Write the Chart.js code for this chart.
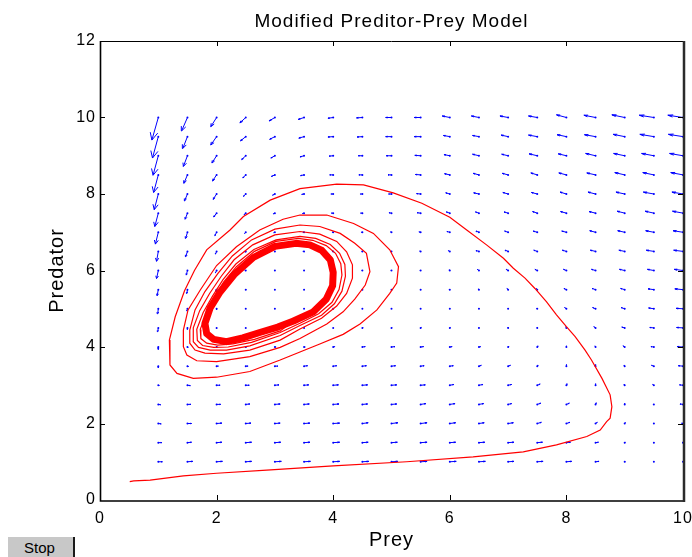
<!DOCTYPE html>
<html>
<head>
<meta charset="utf-8">
<title>Modified Preditor-Prey Model</title>
<script src="https://cdn.jsdelivr.net/npm/chart.js@4.4.1/dist/chart.umd.min.js"></script>
<style>
  html, body { margin: 0; padding: 0; background: #fff; }
  #wrap { position: relative; width: 692px; height: 557px; }
  #ppChart { display: block; }
  #stopBtn {
    position: absolute; left: 8px; top: 537px; width: 67px; height: 20px;
    box-sizing: border-box; background: #c8c8c8; border-right: 2px solid #1a1a1a;
    font: 15px "Liberation Sans", Arial, sans-serif; color: #000;
    text-align: center; line-height: 21px; padding-right: 2px;
  }
</style>
</head>
<body>
<div id="wrap">
  <canvas id="ppChart" width="692" height="557"></canvas>
  <div id="stopBtn">Stop</div>
</div>
<script>
var fontFamily = "'Liberation Sans', Arial, Helvetica, sans-serif";

var xTickValues = [0, 2, 4, 6, 8, 10];
var yTickValues = [0, 2, 4, 6, 8, 10, 12];

// direction field grid (rows listed from the top row down)
var quiverX = [1, 1.5, 2, 2.5, 3, 3.5, 4, 4.5, 5, 5.5, 6, 6.5, 7, 7.5, 8, 8.5, 9, 9.5, 10];
var quiverY = [10, 9.5, 9, 8.5, 8, 7.5, 7, 6.5, 6, 5.5, 5, 4.5, 4, 3.5, 3, 2.5, 2, 1.5, 1];

var quiverU = [
  [-0.11,-0.10,-0.10,-0.10,-0.10,-0.10,-0.09,-0.10,-0.10,-0.11,-0.13,-0.13,-0.14,-0.15,-0.17,-0.20,-0.22,-0.25,-0.26],
  [-0.10,-0.08,-0.10,-0.09,-0.09,-0.09,-0.09,-0.09,-0.10,-0.11,-0.11,-0.11,-0.12,-0.15,-0.16,-0.19,-0.20,-0.24,-0.25],
  [-0.09,-0.07,-0.08,-0.07,-0.07,-0.07,-0.07,-0.07,-0.09,-0.10,-0.10,-0.11,-0.11,-0.14,-0.14,-0.17,-0.19,-0.21,-0.23],
  [-0.08,-0.06,-0.07,-0.05,-0.06,-0.06,-0.06,-0.06,-0.06,-0.09,-0.09,-0.10,-0.10,-0.11,-0.13,-0.15,-0.17,-0.19,-0.21],
  [-0.07,-0.05,-0.06,-0.04,-0.04,-0.04,-0.04,-0.04,-0.05,-0.07,-0.07,-0.09,-0.09,-0.10,-0.11,-0.13,-0.15,-0.18,-0.19],
  [-0.06,-0.04,-0.05,-0.03,-0.03,-0.03,-0.03,-0.03,-0.04,-0.06,-0.06,-0.06,-0.07,-0.08,-0.10,-0.11,-0.13,-0.15,-0.18],
  [-0.05,-0.03,-0.03,-0.02,-0.02,-0.02,-0.02,-0.02,-0.02,-0.03,-0.05,-0.05,-0.06,-0.07,-0.08,-0.10,-0.12,-0.14,-0.17],
  [-0.03,-0.03,-0.02,-0.01,-0.01,-0.02,-0.02,-0.01,-0.01,-0.02,-0.03,-0.05,-0.05,-0.06,-0.07,-0.09,-0.10,-0.13,-0.16],
  [-0.03,-0.02,-0.02,-0.01, 0.00, 0.00,-0.01,-0.01,-0.01,-0.01,-0.01,-0.03,-0.03,-0.04,-0.05,-0.07,-0.09,-0.11,-0.15],
  [-0.02,-0.01,-0.01, 0.00, 0.00, 0.00, 0.00, 0.00, 0.00, 0.00,-0.01,-0.01,-0.02,-0.02,-0.04,-0.06,-0.07,-0.10,-0.14],
  [-0.01,-0.01, 0.00, 0.00, 0.00, 0.00, 0.00, 0.00, 0.00, 0.00, 0.00, 0.00, 0.00,-0.01,-0.03,-0.05,-0.06,-0.09,-0.12],
  [-0.01, 0.00, 0.00, 0.00, 0.01, 0.01, 0.01, 0.01, 0.01, 0.01, 0.01, 0.00, 0.00, 0.00,-0.01,-0.03,-0.05,-0.07,-0.11],
  [ 0.00, 0.01, 0.01, 0.01, 0.02, 0.02, 0.03, 0.05, 0.06, 0.05, 0.04, 0.03, 0.01, 0.01, 0.00,-0.01,-0.03,-0.05,-0.10],
  [ 0.00, 0.02, 0.03, 0.04, 0.05, 0.06, 0.06, 0.07, 0.07, 0.06, 0.06, 0.04, 0.04, 0.01, 0.00, 0.00,-0.01,-0.04,-0.08],
  [ 0.01, 0.05, 0.06, 0.06, 0.07, 0.08, 0.09, 0.09, 0.09, 0.08, 0.07, 0.07, 0.06, 0.05, 0.01, 0.00,-0.01,-0.02,-0.06],
  [ 0.04, 0.06, 0.07, 0.07, 0.09, 0.09, 0.10, 0.09, 0.09, 0.09, 0.09, 0.08, 0.06, 0.06, 0.05, 0.01, 0.00,-0.01,-0.05],
  [ 0.05, 0.07, 0.09, 0.09, 0.09, 0.10, 0.11, 0.10, 0.11, 0.11, 0.10, 0.09, 0.09, 0.07, 0.06, 0.03, 0.01, 0.00,-0.03],
  [ 0.06, 0.07, 0.09, 0.10, 0.10, 0.10, 0.11, 0.10, 0.10, 0.11, 0.10, 0.10, 0.10, 0.09, 0.07, 0.05, 0.01, 0.00,-0.01],
  [ 0.07, 0.09, 0.10, 0.10, 0.11, 0.11, 0.11, 0.11, 0.11, 0.11, 0.11, 0.11, 0.10, 0.10, 0.09, 0.06, 0.01, 0.00, 0.00]
];

var quiverV = [
  [-0.59,-0.35,-0.24,-0.14,-0.09,-0.05,-0.02,-0.01, 0.00, 0.00, 0.04, 0.04, 0.04, 0.04, 0.07, 0.06, 0.07, 0.06, 0.06],
  [-0.56,-0.31,-0.22,-0.11,-0.07,-0.04,-0.01,-0.01, 0.00, 0.00, 0.03, 0.03, 0.04, 0.04, 0.05, 0.05, 0.06, 0.06, 0.06],
  [-0.51,-0.28,-0.19,-0.10,-0.06,-0.03,-0.01, 0.00, 0.00, 0.01, 0.03, 0.04, 0.04, 0.05, 0.05, 0.06, 0.06, 0.06, 0.06],
  [-0.46,-0.22,-0.16,-0.08,-0.04,-0.02, 0.00, 0.00, 0.00, 0.01, 0.03, 0.04, 0.04, 0.05, 0.05, 0.05, 0.06, 0.06, 0.06],
  [-0.41,-0.18,-0.14,-0.06,-0.03,-0.01, 0.00, 0.00, 0.00, 0.01, 0.03, 0.03, 0.04, 0.04, 0.05, 0.05, 0.05, 0.05, 0.05],
  [-0.35,-0.16,-0.10,-0.04,-0.02,-0.01, 0.00, 0.00, 0.01, 0.01, 0.03, 0.03, 0.03, 0.04, 0.04, 0.04, 0.05, 0.05, 0.05],
  [-0.31,-0.16,-0.09,-0.03,-0.01, 0.00, 0.00, 0.00, 0.01, 0.01, 0.02, 0.03, 0.03, 0.03, 0.03, 0.04, 0.04, 0.04, 0.04],
  [-0.26,-0.14,-0.07,-0.02, 0.00, 0.00, 0.00, 0.00, 0.00, 0.01, 0.02, 0.02, 0.03, 0.03, 0.03, 0.03, 0.03, 0.03, 0.03],
  [-0.21,-0.12,-0.06,-0.01, 0.00, 0.00, 0.00, 0.00, 0.00, 0.01, 0.02, 0.03, 0.03, 0.03, 0.03, 0.03, 0.03, 0.03, 0.03],
  [-0.16,-0.10,-0.05,-0.01, 0.00, 0.00, 0.00, 0.00, 0.00, 0.01, 0.01, 0.02, 0.03, 0.03, 0.03, 0.03, 0.03, 0.02, 0.02],
  [-0.13,-0.06,-0.02, 0.00, 0.00, 0.00, 0.00, 0.00, 0.00, 0.00, 0.01, 0.01, 0.01, 0.02, 0.03, 0.03, 0.03, 0.02, 0.01],
  [-0.10,-0.04,-0.01, 0.00, 0.00, 0.00, 0.00, 0.01, 0.01, 0.01, 0.01, 0.01, 0.02, 0.02, 0.03, 0.03, 0.02, 0.01, 0.01],
  [-0.06,-0.02, 0.00, 0.00, 0.00, 0.00, 0.01, 0.01, 0.01, 0.01, 0.01, 0.01, 0.02, 0.03, 0.03, 0.03, 0.03, 0.01, 0.01],
  [-0.04,-0.01, 0.00, 0.00, 0.00, 0.01, 0.01, 0.01, 0.01, 0.01, 0.01, 0.02, 0.02, 0.03, 0.04, 0.04, 0.03, 0.02, 0.01],
  [-0.02,-0.01, 0.00, 0.00, 0.01, 0.01, 0.01, 0.01, 0.01, 0.01, 0.02, 0.02, 0.02, 0.03, 0.04, 0.04, 0.03, 0.02, 0.01],
  [-0.01, 0.00, 0.00, 0.01, 0.01, 0.01, 0.01, 0.01, 0.01, 0.02, 0.02, 0.02, 0.02, 0.03, 0.03, 0.04, 0.03, 0.01, 0.01],
  [-0.01, 0.00, 0.01, 0.01, 0.01, 0.01, 0.01, 0.02, 0.02, 0.02, 0.02, 0.02, 0.02, 0.03, 0.03, 0.03, 0.02, 0.01, 0.01],
  [ 0.00, 0.01, 0.01, 0.01, 0.01, 0.01, 0.01, 0.01, 0.01, 0.01, 0.01, 0.01, 0.01, 0.01, 0.01, 0.01, 0.01, 0.01, 0.01],
  [ 0.00, 0.01, 0.01, 0.01, 0.01, 0.01, 0.01, 0.01, 0.01, 0.01, 0.01, 0.01, 0.01, 0.01, 0.01, 0.01, 0.00, 0.00, 0.00]
];

// solution curve: start near the origin, one wide swing, then tighter passes
var startPath = [
  [0.51,0.48],[0.58,0.50],[0.86,0.52],[1.43,0.63],[2.00,0.70],[2.86,0.78],[4.00,0.89],[5.26,1.00],
  [6.40,1.13],[7.26,1.26],[7.83,1.44],[8.35,1.66],[8.58,1.83],[8.69,2.05],[8.75,2.14],[8.78,2.44],
  [8.75,2.75],[8.61,3.18],[8.43,3.66],[8.32,3.92],[8.15,4.27],[8.00,4.53],[7.83,4.84],[7.66,5.18],
  [7.46,5.53],[7.29,5.80],[7.09,6.06],[6.92,6.32],[6.63,6.67],[6.29,7.06],[6.00,7.39],[5.52,7.76],
  [5.03,8.03],[4.52,8.24],[4.06,8.26],[3.43,8.14],[2.92,7.84],[2.46,7.41],[2.23,7.06],[1.83,6.54],
  [1.62,6.00],[1.45,5.47],[1.29,4.79],[1.19,4.18],[1.20,3.53],[1.32,3.31],[1.60,3.18],[2.00,3.21],
  [2.57,3.36],[3.09,3.66]
];
var loopA = [
  [3.43,3.87],[3.77,4.08],[4.17,4.33],[4.46,4.60],[4.75,4.97],[4.97,5.40],[5.09,5.67],[5.12,6.10],
  [4.97,6.54],[4.69,6.97],[4.35,7.23],[3.89,7.45],[3.43,7.45],[3.14,7.34],[2.74,7.06],[2.34,6.62],
  [2.00,6.13],[1.72,5.49],[1.51,4.97],[1.43,4.44],[1.43,4.01],[1.49,3.79],[1.66,3.64],[2.00,3.62],
  [2.57,3.75],[3.09,3.99]
];
var loopB = [
  [3.43,4.22],[3.89,4.60],[4.17,4.92],[4.37,5.25],[4.55,5.62],[4.63,5.97],[4.57,6.45],[4.37,6.71],
  [4.12,6.97],[3.77,7.15],[3.43,7.19],[3.00,7.08],[2.60,6.80],[2.27,6.38],[2.02,5.92],[1.80,5.45],
  [1.63,4.97],[1.54,4.44],[1.54,4.10],[1.63,3.92],[1.80,3.84],[2.12,3.82],[2.57,3.92],[3.09,4.18]
];
var loopC = [
  [3.43,4.47],[3.80,4.75],[4.06,5.07],[4.23,5.40],[4.33,5.80],[4.33,6.15],[4.23,6.49],[4.06,6.76],
  [3.77,6.95],[3.43,7.02],[3.00,6.93],[2.62,6.67],[2.30,6.28],[2.08,5.85],[1.88,5.40],[1.71,4.95],
  [1.60,4.50],[1.60,4.14],[1.69,3.99],[1.89,3.92],[2.17,3.92],[2.57,4.03],[3.09,4.30]
];
var loopD = [
  [3.43,4.56],[3.80,4.83],[4.02,5.13],[4.15,5.46],[4.21,5.85],[4.20,6.16],[4.11,6.45],[3.95,6.68],
  [3.70,6.84],[3.43,6.89],[3.02,6.80],[2.64,6.55],[2.33,6.17],[2.11,5.76],[1.93,5.33],[1.77,4.90],
  [1.66,4.46],[1.67,4.17],[1.76,4.04],[1.95,3.99],[2.20,4.00],[2.60,4.12],[3.09,4.38]
];
var loopE = [
  [3.43,4.62],[3.75,4.87],[3.98,5.17],[4.10,5.50],[4.15,5.88],[4.13,6.18],[4.04,6.45],[3.88,6.65],
  [3.65,6.79],[3.40,6.84],[3.02,6.76],[2.65,6.50],[2.34,6.10],[2.12,5.70],[1.95,5.27],[1.82,4.86],
  [1.72,4.46],[1.73,4.22],[1.83,4.10],[2.02,4.05],[2.28,4.08],[2.65,4.20],[3.09,4.42]
];
// the passes pile up on this closed orbit
var limitCycle = [
  [3.32,4.68],[3.66,4.92],[3.88,5.25],[3.99,5.60],[4.00,5.95],[3.95,6.28],[3.80,6.53],[3.60,6.67],
  [3.36,6.71],[3.00,6.63],[2.63,6.34],[2.30,5.89],[2.06,5.44],[1.89,5.02],[1.80,4.62],[1.83,4.35],
  [1.95,4.20],[2.17,4.14],[2.45,4.24],[2.74,4.38],[3.05,4.52],[3.32,4.68]
];

function toPoints(list) {
  return list.map(function (p) { return {x: p[0], y: p[1]}; });
}

// arrow shafts and heads, split by null points so each arrow is its own piece
var shaftPoints = [];
var headPoints = [];
var alpha = 0.33, beta = 0.33;
for (var r = 0; r < quiverY.length; r++) {
  for (var c = 0; c < quiverX.length; c++) {
    var x0 = quiverX[c], y0 = quiverY[r];
    var u = quiverU[r][c], v = quiverV[r][c];
    shaftPoints.push({x: x0, y: y0, tail: true}, {x: x0 + u, y: y0 + v}, {x: x0, y: null});
    headPoints.push(
      {x: x0 + u - alpha * (u + beta * v), y: y0 + v - alpha * (v - beta * u)},
      {x: x0 + u, y: y0 + v},
      {x: x0 + u - alpha * (u - beta * v), y: y0 + v - alpha * (v + beta * u)},
      {x: x0, y: null}
    );
  }
}

var trajectory = toPoints([].concat(startPath, loopA, loopB, loopC, loopD, loopE, limitCycle));

var textSpacing = {
  id: 'textSpacing',
  beforeDraw: function (chart) { chart.ctx.letterSpacing = '1px'; }
};

// box round the plot with inward tick marks
var axesFrame = {
  id: 'axesFrame',
  afterDraw: function (chart) {
    var ctx = chart.ctx, a = chart.chartArea;
    var xs = chart.scales.x, ys = chart.scales.y;
    var tick = 5;
    ctx.save();
    ctx.strokeStyle = '#000';
    ctx.lineWidth = 1;
    ctx.beginPath();
    ctx.moveTo(a.left, a.top + 0.5);
    ctx.lineTo(a.right, a.top + 0.5);
    ctx.stroke();

    ctx.lineWidth = 1.6;
    ctx.beginPath();
    ctx.moveTo(a.left + 0.5, a.top);
    ctx.lineTo(a.left + 0.5, a.bottom + 1);
    ctx.lineTo(a.right, a.bottom + 1);
    ctx.stroke();

    ctx.strokeStyle = '#2b2b2b';
    ctx.lineWidth = 2.5;
    ctx.beginPath();
    ctx.moveTo(a.right + 1, a.top);
    ctx.lineTo(a.right + 1, a.bottom + 2);
    ctx.stroke();

    ctx.strokeStyle = '#000';
    ctx.lineWidth = 1;
    ctx.beginPath();
    xTickValues.forEach(function (val) {
      if (val === xs.min || val === xs.max) return;
      var px = Math.round(xs.getPixelForValue(val)) + 0.5;
      ctx.moveTo(px, a.bottom);
      ctx.lineTo(px, a.bottom - tick);
      ctx.moveTo(px, a.top);
      ctx.lineTo(px, a.top + tick);
    });
    yTickValues.forEach(function (val) {
      if (val === ys.min || val === ys.max) return;
      var py = Math.round(ys.getPixelForValue(val)) + 0.5;
      ctx.moveTo(a.left, py);
      ctx.lineTo(a.left + tick, py);
      ctx.moveTo(a.right, py);
      ctx.lineTo(a.right - tick, py);
    });
    ctx.stroke();
    ctx.restore();
  }
};

new Chart(document.getElementById('ppChart'), {
  type: 'scatter',
  data: {
    datasets: [
      {
        label: 'trajectory',
        data: trajectory,
        showLine: true,
        borderColor: '#ff0000',
        borderWidth: 1.2,
        pointRadius: 0,
        tension: 0
      },
      {
        label: 'limit cycle',
        data: toPoints(limitCycle),
        showLine: true,
        borderColor: '#ff0000',
        borderWidth: 7,
        borderJoinStyle: 'round',
        borderCapStyle: 'round',
        pointRadius: 0,
        tension: 0
      },
      {
        label: 'arrow heads',
        data: headPoints,
        showLine: true,
        borderColor: '#0000ff',
        borderWidth: 1,
        pointRadius: 0,
        tension: 0
      },
      {
        label: 'arrows',
        data: shaftPoints,
        showLine: true,
        borderColor: '#0000ff',
        borderWidth: 1,
        pointRadius: function (ctx) { return ctx.raw && ctx.raw.tail ? 1 : 0; },
        pointBackgroundColor: '#0000ff',
        pointBorderWidth: 0,
        tension: 0
      }
    ]
  },
  options: {
    responsive: false,
    animation: false,
    devicePixelRatio: 1,
    events: [],
    layout: { padding: { left: 0, right: 9, top: 0, bottom: 0 } },
    plugins: {
      legend: { display: false },
      tooltip: { enabled: false },
      title: {
        display: true,
        fullSize: false,
        text: 'Modified Preditor-Prey Model',
        color: '#000',
        font: { family: fontFamily, size: 19, weight: 'normal', lineHeight: 1.2 },
        padding: { top: 10, bottom: 8.2 }
      }
    },
    scales: {
      x: {
        type: 'linear',
        min: 0,
        max: 10,
        afterBuildTicks: function (s) { s.ticks = xTickValues.map(function (v) { return {value: v}; }); },
        afterFit: function (s) { s.height = 57; s.paddingLeft = 0; s.paddingRight = 0; },
        grid: { display: false, drawTicks: false },
        border: { display: false },
        ticks: { color: '#000', font: { family: fontFamily, size: 16 }, padding: 9, maxRotation: 0, autoSkip: false },
        title: {
          display: true, text: 'Prey', color: '#000',
          font: { family: fontFamily, size: 20, lineHeight: 1.2 },
          padding: { top: 0, bottom: 5 }
        }
      },
      y: {
        type: 'linear',
        min: 0,
        max: 12,
        afterBuildTicks: function (s) { s.ticks = yTickValues.map(function (v) { return {value: v}; }); },
        afterFit: function (s) { s.width = 100; s.paddingTop = 0; s.paddingBottom = 0; },
        grid: { display: false, drawTicks: false },
        border: { display: false },
        ticks: { color: '#000', font: { family: fontFamily, size: 16 }, padding: 4, autoSkip: false },
        title: {
          display: true, text: 'Predator', color: '#000',
          font: { family: fontFamily, size: 20, lineHeight: 1.2 },
          padding: { top: 45.5, bottom: 0 }
        }
      }
    }
  },
  plugins: [textSpacing, axesFrame]
});
</script>
</body>
</html>
